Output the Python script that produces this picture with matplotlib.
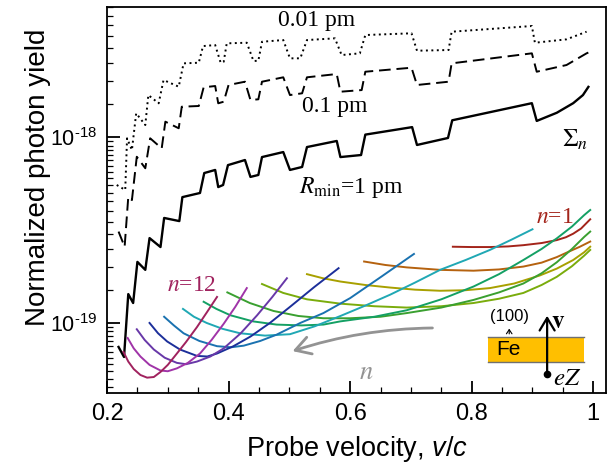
import numpy as np
import matplotlib
matplotlib.use("Agg")
import matplotlib.pyplot as plt
from matplotlib.ticker import FixedLocator, LogLocator, MultipleLocator, FuncFormatter, NullFormatter
from matplotlib.patches import Rectangle

# ---- summed yield, R_min = 0.01 pm (dotted)
sum_001_x = [0.216, 0.230, 0.233, 0.241, 0.248, 0.263, 0.268, 0.285, 0.293, 0.318,
             0.326, 0.351, 0.358, 0.378, 0.387, 0.392, 0.397, 0.430, 0.441, 0.449,
             0.455, 0.490, 0.501, 0.518, 0.529, 0.575, 0.586, 0.616, 0.625, 0.701,
             0.710, 0.762, 0.767, 0.899, 0.904, 0.956, 0.989]
sum_001_y = [5.52e-19, 5.19e-19, 9.84e-19, 8.51e-19, 1.341e-18, 1.160e-18, 1.681e-18, 1.518e-18, 2.025e-18, 1.864e-18,
             2.489e-18, 2.508e-18, 3.083e-18, 3.122e-18, 2.508e-18, 2.540e-18, 3.189e-18, 3.213e-18, 2.562e-18, 2.571e-18,
             3.253e-18, 3.322e-18, 2.649e-18, 2.649e-18, 3.322e-18, 3.393e-18, 2.759e-18, 2.818e-18, 3.535e-18, 3.611e-18,
             2.911e-18, 2.936e-18, 3.683e-18, 3.952e-18, 3.213e-18, 3.351e-18, 3.683e-18]

# ---- summed yield, R_min = 0.1 pm (dashed)
sum_01_x = [0.219, 0.229, 0.235, 0.241, 0.249, 0.263, 0.271, 0.290, 0.296, 0.318,
            0.323, 0.351, 0.359, 0.378, 0.383, 0.392, 0.400, 0.427, 0.436, 0.449,
            0.455, 0.490, 0.501, 0.521, 0.529, 0.578, 0.584, 0.619, 0.625, 0.701,
            0.710, 0.762, 0.767, 0.899, 0.907, 0.956, 0.989, 0.995]
sum_01_y = [3.10e-19, 2.57e-19, 4.76e-19, 4.58e-19, 7.83e-19, 6.79e-19, 9.84e-19, 8.69e-19, 1.209e-18, 1.114e-18,
            1.455e-18, 1.468e-18, 1.850e-18, 1.880e-18, 1.518e-18, 1.548e-18, 1.904e-18, 1.983e-18, 1.581e-18, 1.595e-18,
            1.983e-18, 2.094e-18, 1.681e-18, 1.718e-18, 2.094e-18, 2.181e-18, 1.752e-18, 1.788e-18, 2.244e-18, 2.358e-18,
            1.904e-18, 1.983e-18, 2.489e-18, 2.818e-18, 2.244e-18, 2.438e-18, 2.818e-18, 2.874e-18]

# ---- summed yield, R_min = 1 pm (solid)
sum_1_x = [0.219, 0.228, 0.235, 0.243, 0.250, 0.263, 0.270, 0.288, 0.294, 0.319,
           0.324, 0.353, 0.360, 0.378, 0.383, 0.391, 0.399, 0.427, 0.436, 0.449,
           0.455, 0.490, 0.501, 0.521, 0.529, 0.578, 0.584, 0.618, 0.625, 0.702,
           0.710, 0.761, 0.768, 0.899, 0.907, 0.940, 0.967, 0.983, 0.992]
sum_1_y = [7.43e-20, 6.56e-20, 1.43e-19, 1.28e-19, 2.13e-19, 1.93e-19, 2.86e-19, 2.56e-19, 3.67e-19, 3.53e-19,
           4.75e-19, 5.00e-19, 6.40e-19, 6.65e-19, 5.38e-19, 5.52e-19, 7.06e-19, 7.52e-19, 6.10e-19, 6.25e-19,
           7.80e-19, 8.30e-19, 6.65e-19, 6.90e-19, 8.83e-19, 9.52e-19, 7.80e-19, 8.00e-19, 1.03e-18, 1.13e-18,
           9.06e-19, 9.88e-19, 1.23e-18, 1.52e-18, 1.22e-18, 1.35e-18, 1.52e-18, 1.68e-18, 1.86e-18]

# ---- single harmonics n = 1 .. 12 (R_min = 1 pm)
n1_x = [0.769, 0.800, 0.830, 0.860, 0.885, 0.915, 0.940, 0.955, 0.967, 0.980, 0.995]
n1_y = [2.57e-19, 2.56e-19, 2.56e-19, 2.58e-19, 2.62e-19, 2.69e-19, 2.79e-19, 2.89e-19, 3.02e-19, 3.22e-19, 3.61e-19]
n2_x = [0.623, 0.658, 0.693, 0.748, 0.803, 0.845, 0.885, 0.915, 0.940, 0.960, 0.978, 0.995]
n2_y = [2.14e-19, 2.05e-19, 1.99e-19, 1.93e-19, 1.91e-19, 1.94e-19, 2.01e-19, 2.11e-19, 2.26e-19, 2.42e-19, 2.57e-19, 2.74e-19]
n3_x = [0.529, 0.555, 0.584, 0.625, 0.666, 0.707, 0.748, 0.790, 0.830, 0.870, 0.912, 0.940, 0.967, 0.985, 0.995]
n3_y = [1.83e-19, 1.74e-19, 1.67e-19, 1.60e-19, 1.55e-19, 1.51e-19, 1.49e-19, 1.50e-19, 1.54e-19, 1.63e-19,
        1.80e-19, 1.96e-19, 2.18e-19, 2.40e-19, 2.57e-19]
n4_x = [0.455, 0.490, 0.529, 0.584, 0.640, 0.693, 0.750, 0.803, 0.845, 0.885, 0.915, 0.940, 0.965, 0.985, 0.995]
n4_y = [1.62e-19, 1.45e-19, 1.34e-19, 1.27e-19, 1.23e-19, 1.21e-19, 1.23e-19, 1.28e-19, 1.35e-19, 1.45e-19,
        1.60e-19, 1.77e-19, 2.02e-19, 2.30e-19, 2.47e-19]
n5_x = [0.398, 0.435, 0.474, 0.515, 0.556, 0.600, 0.650, 0.693, 0.750, 0.803, 0.845, 0.885, 0.915, 0.940, 0.965,
        0.985, 0.995]
n5_y = [1.46e-19, 1.28e-19, 1.16e-19, 1.09e-19, 1.06e-19, 1.06e-19, 1.08e-19, 1.13e-19, 1.21e-19, 1.33e-19,
        1.46e-19, 1.63e-19, 1.85e-19, 2.12e-19, 2.50e-19, 2.90e-19, 3.10e-19]
n6_x = [0.359, 0.380, 0.403, 0.440, 0.479, 0.520, 0.556, 0.584, 0.640, 0.693, 0.750, 0.803, 0.845, 0.885, 0.915,
        0.940, 0.965, 0.985, 0.995]
n6_y = [1.30e-19, 1.19e-19, 1.10e-19, 1.02e-19, 9.8e-20, 9.7e-20, 9.8e-20, 1.02e-19, 1.08e-19, 1.17e-19,
        1.34e-19, 1.57e-19, 1.83e-19, 2.18e-19, 2.50e-19, 2.85e-19, 3.30e-19, 3.80e-19, 4.05e-19]
n7_x = [0.325, 0.343, 0.364, 0.390, 0.419, 0.460, 0.501, 0.542, 0.584, 0.625, 0.666, 0.707, 0.748, 0.790, 0.830,
        0.865, 0.900]
n7_y = [1.19e-19, 1.08e-19, 1.00e-19, 9.3e-20, 8.8e-20, 8.55e-20, 8.7e-20, 9.6e-20, 1.09e-19, 1.24e-19,
        1.42e-19, 1.65e-19, 1.93e-19, 2.18e-19, 2.47e-19, 2.80e-19, 3.19e-19]
n8_x = [0.294, 0.310, 0.326, 0.352, 0.381, 0.404, 0.425, 0.452, 0.479, 0.518, 0.556, 0.600, 0.652, 0.705]
n8_y = [1.08e-19, 9.7e-20, 8.8e-20, 8.0e-20, 7.5e-20, 7.4e-20, 7.55e-20, 8.0e-20, 8.65e-20, 1.00e-19,
        1.13e-19, 1.36e-19, 1.78e-19, 2.35e-19]
n9_x = [0.270, 0.284, 0.299, 0.320, 0.348, 0.365, 0.381, 0.408, 0.436, 0.468, 0.501, 0.541, 0.581]
n9_y = [1.00e-19, 8.8e-20, 7.95e-20, 7.2e-20, 6.65e-20, 6.6e-20, 6.85e-20, 7.5e-20, 8.45e-20, 1.00e-19,
        1.22e-19, 1.56e-19, 1.97e-19]
n10_x = [0.249, 0.262, 0.277, 0.295, 0.315, 0.330, 0.348, 0.370, 0.392, 0.420, 0.447, 0.472, 0.496]
n10_y = [9.25e-20, 8.1e-20, 7.2e-20, 6.5e-20, 6.1e-20, 6.0e-20, 6.2e-20, 6.6e-20, 7.3e-20, 8.8e-20,
         1.10e-19, 1.38e-19, 1.74e-19]
n11_x = [0.234, 0.244, 0.255, 0.270, 0.288, 0.300, 0.315, 0.333, 0.353, 0.372, 0.392, 0.411, 0.430]
n11_y = [8.3e-20, 7.3e-20, 6.6e-20, 5.95e-20, 5.55e-20, 5.5e-20, 5.7e-20, 6.1e-20, 6.85e-20, 8.1e-20,
         9.9e-20, 1.22e-19, 1.54e-19]
n12_x = [0.227, 0.235, 0.244, 0.255, 0.266, 0.277, 0.288, 0.300, 0.315, 0.330, 0.348, 0.365, 0.381]
n12_y = [7.0e-20, 6.2e-20, 5.65e-20, 5.25e-20, 5.08e-20, 5.12e-20, 5.45e-20, 5.95e-20, 6.85e-20, 7.9e-20,
         9.5e-20, 1.15e-19, 1.38e-19]

harmonics = [(n1_x, n1_y), (n2_x, n2_y), (n3_x, n3_y), (n4_x, n4_y), (n5_x, n5_y), (n6_x, n6_y),
             (n7_x, n7_y), (n8_x, n8_y), (n9_x, n9_y), (n10_x, n10_y), (n11_x, n11_y), (n12_x, n12_y)]
harmonic_colors = ['#a3241a', '#b5620f', '#a8a000', '#7aac0c', '#3aa030', '#14a064',
                   '#20a8b4', '#1a72b0', '#1c2f9a', '#6838a8', '#a034a8', '#a0225e']

plt.rcParams['font.family'] = ['Liberation Sans', 'DejaVu Sans']
plt.rcParams['mathtext.fontset'] = 'custom'
plt.rcParams['mathtext.rm'] = 'Liberation Sans'
plt.rcParams['mathtext.it'] = 'Liberation Sans:italic'
plt.rcParams['mathtext.bf'] = 'Liberation Sans:bold'

fig = plt.figure(figsize=(6.09, 4.65), dpi=100)
ax = fig.add_axes([0.1757, 0.1548, 0.8194, 0.8301])

ax.plot(sum_001_x, sum_001_y, color='black', lw=1.4, ls=(0, (1, 1.8)))
ax.plot(sum_01_x, sum_01_y, color='black', lw=1.4, ls=(0, (6, 3)))
ax.plot(sum_1_x, sum_1_y, color='black', lw=1.7)

for (hx, hy), c in zip(harmonics, harmonic_colors):
    ax.plot(hx, hy, color=c, lw=1.4)

ax.set_yscale('log')
ax.set_xlim(0.2, 1.021)
ax.set_ylim(4.2e-20, 5e-18)
ax.xaxis.set_major_locator(MultipleLocator(0.2))
ax.xaxis.set_minor_locator(MultipleLocator(0.05))
ax.xaxis.set_major_formatter(FuncFormatter(lambda v, _: '1' if abs(v - 1) < 1e-6 else f'{v:.1f}'))
ax.yaxis.set_major_locator(FixedLocator([1e-19, 1e-18]))
ax.yaxis.set_minor_locator(LogLocator(base=10, subs=np.arange(1.5, 10, 0.5), numticks=30))
ax.yaxis.set_major_formatter(FuncFormatter(
    lambda v, _: '$10^{\u2010' + str(-int(round(np.log10(v)))) + '}$'))
ax.yaxis.set_minor_formatter(NullFormatter())

ax.tick_params(which='both', direction='in')
ax.tick_params(axis='x', labelsize=17)
ax.tick_params(axis='y', labelsize=15.5)
ax.tick_params(which='major', length=9, width=1.3, pad=7)
ax.tick_params(which='minor', length=4.5, width=0.9)
for s in ax.spines.values():
    s.set_linewidth(1.3)

ax.set_xlabel('Probe velocity, $v/c$', fontsize=19.5, labelpad=7)
ax.set_ylabel('Normalized photon yield', fontsize=20)
ax.yaxis.set_label_coords(-0.112, 0.56)

serif = ['Liberation Serif', 'DejaVu Serif']
ax.text(0.545, 4.25e-18, '0.01 pm', family=serif, fontsize=17, ha='center', va='center')
ax.text(0.575, 1.45e-18, '0.1 pm', family=serif, fontsize=17, ha='center', va='center')
ax.text(0.602, 5.38e-19, r'$R_{\mathrm{min}}$=1 pm', family=serif, fontsize=17,
        ha='center', va='center', math_fontfamily='stix')
ax.text(0.970, 9.6e-19, r'$\Sigma_n$', fontsize=18, ha='center', va='center', math_fontfamily='stix')
ax.text(0.937, 3.71e-19, r'$n$=1', family=serif, fontsize=17, color='#a3241a',
        ha='center', va='center', math_fontfamily='stix')
ax.text(0.340, 1.60e-19, r'$n$=12', family=serif, fontsize=17, color='#a0225e',
        ha='center', va='center', math_fontfamily='stix')

# direction of increasing n
ax.annotate('', xy=(0.501, 6.98e-20), xytext=(0.740, 9.4e-20),
            arrowprops=dict(arrowstyle='->,head_length=0.6,head_width=0.35', color='#939393', lw=2,
                            connectionstyle='arc3,rad=0.08', mutation_scale=18))
ax.text(0.627, 5.46e-20, r'$n$', fontsize=19, color='#939393', ha='center', va='center',
        math_fontfamily='stix')

# inset sketch
tr = ax.transAxes
ax.add_patch(Rectangle((0.764, 0.0795), 0.191, 0.0665, transform=tr, facecolor='#ffbf00', edgecolor='none'))
ax.plot([0.764, 0.955], [0.0795, 0.0795], transform=tr, color='#707070', lw=1)
ax.plot([0.764, 0.955], [0.146, 0.146], transform=tr, color='#707070', lw=1)
ax.text(0.804, 0.112, 'Fe', transform=tr, fontsize=15, ha='center', va='center')
ax.text(0.806, 0.198, '(100)', transform=tr, fontsize=12, ha='center', va='center')
ax.annotate('', xy=(0.806, 0.174), xytext=(0.806, 0.146), xycoords=tr, textcoords=tr,
            arrowprops=dict(arrowstyle='->,head_length=0.3,head_width=0.2', color='black', lw=0.8))
ax.annotate('', xy=(0.882, 0.20), xytext=(0.882, 0.049), xycoords=tr, textcoords=tr,
            arrowprops=dict(arrowstyle='->,head_length=0.5,head_width=0.3', color='black', lw=1.6,
                            mutation_scale=18, shrinkA=0, shrinkB=0))
ax.plot([0.882], [0.049], 'o', color='black', ms=4.5, transform=tr)
ax.text(0.904, 0.186, r'$\mathbf{v}$', transform=tr, fontsize=18, ha='center', va='center',
        math_fontfamily='stix')
ax.text(0.922, 0.039, r'$eZ$', transform=tr, fontsize=18, ha='center', va='center',
        math_fontfamily='stix')

fig.savefig('out.png', dpi=100)
